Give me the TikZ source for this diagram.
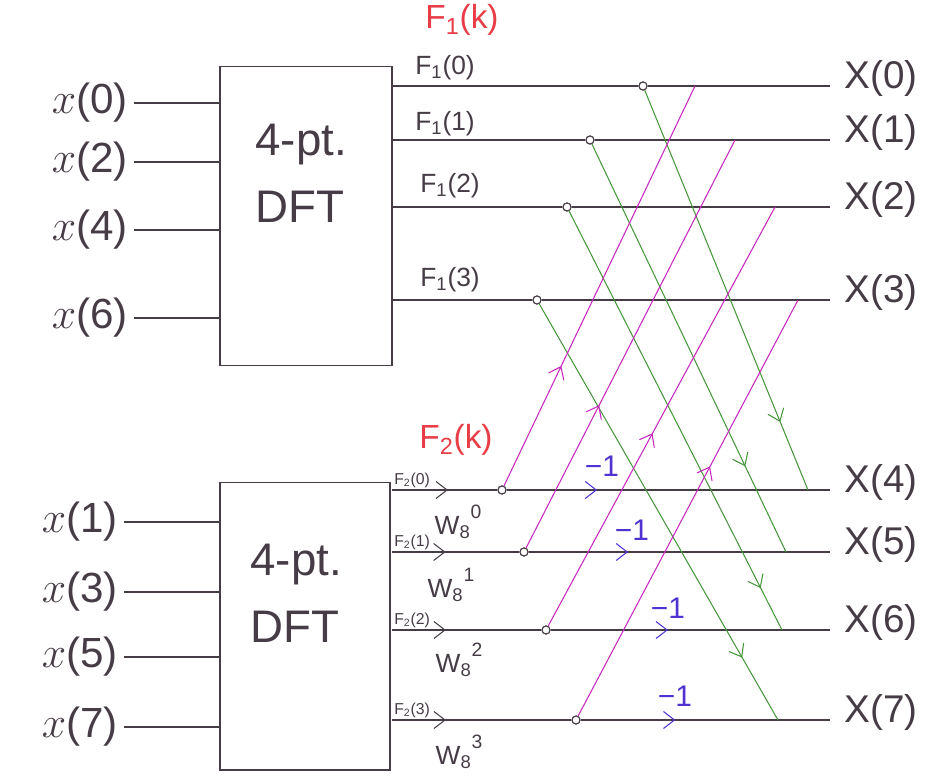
\documentclass[tikz,border=0pt]{standalone}
\usepackage{fontspec}
\setmainfont{Liberation Sans}
\usetikzlibrary{arrows.meta,decorations.markings}
\definecolor{inkblk}{RGB}{70,60,70}
\definecolor{inkred}{RGB}{232,60,70}
\definecolor{inkgrn}{RGB}{70,150,60}
\definecolor{inkmag}{RGB}{200,40,190}
\definecolor{inkblu}{RGB}{80,50,210}
\begin{document}
\begin{tikzpicture}[x=0.02cm,y=-0.02cm,line width=0.6pt,
  box/.style={draw=inkblk,minimum width=3.44cm,minimum height=6cm,inner sep=0pt},
  boxtxt/.style={anchor=north west,align=left,inner sep=0pt,text=inkblk,font=\fontsize{26}{38}\selectfont},
  inlbl/.style={anchor=east,text=inkblk,font=\fontsize{24}{26}\selectfont},
  outlbl/.style={anchor=west,text=inkblk,font=\fontsize{22}{24}\selectfont},
  flbl/.style={text=inkblk,font=\fontsize{15}{17}\selectfont},
  ftiny/.style={text=inkblk,font=\fontsize{9}{10}\selectfont,inner sep=1pt},
  wlbl/.style={text=inkblk,font=\fontsize{15}{17}\selectfont},
  mlbl/.style={text=inkblu,font=\fontsize{17}{19}\selectfont},
  redlbl/.style={text=inkred,font=\fontsize{19}{21}\selectfont},
  jn/.style={circle,draw=inkblk,fill=white,inner sep=0pt,minimum size=1.6mm},
  barb/.tip={Straight Barb[length=2.2mm,width=3.4mm]},
  flow/.style 2 args={postaction={decorate,decoration={markings,mark=at position #1 with {\arrow[#2]{barb}}}}}]
\useasboundingbox (0,0) rectangle (950,777);

\node[box] (dftA) at (306,216) {};
\node[box,minimum width=3.4cm,minimum height=5.76cm] (dftB) at (305,626) {};
\node[boxtxt] (dftAt) at (255,124) {4-pt.\\DFT};
\node[boxtxt] (dftBt) at (250,544) {4-pt.\\DFT};

\foreach \k/\y in {0/103,2/162,4/230,6/318} {
  \node[inlbl] (x\k) at (134,\y) {$x$(\k)};
  \draw[inkblk] (x\k.east) -- (x\k.east -| dftA.west);
}
\foreach \k/\y in {1/522,3/592,5/657,7/727} {
  \node[inlbl] (x\k) at (124,\y) {$x$(\k)};
  \draw[inkblk] (x\k.east) -- (x\k.east -| dftB.west);
}

\foreach \k/\y in {0/86,1/140,2/207,3/300,4/490,5/552,6/630,7/720} {
  \coordinate (s\k) at (392,\y);
  \coordinate (o\k) at (830,\y);
  \node[outlbl] (X\k) at (838,\y-8) {X(\k)};
}

\foreach \k/\x/\m in {0/808/4,1/786/5,2/782/6,3/778/7}
  \coordinate (g\k) at (\x,0 |- o\m);
\foreach \k/\x/\m in {4/695/0,5/735/1,6/775/2,7/798/3}
  \coordinate (m\k) at (\x,0 |- o\m);

\foreach \k/\x in {0/643,1/590,2/567,3/537} {
  \node[jn] (j\k) at (\x,0 |- o\k) {};
  \draw[inkblk] (s\k) -- (j\k);
  \draw[inkblk] (j\k) -- (o\k);
}
\foreach \k/\x/\a/\b in {4/502/0.53/0.28,5/524/0.42/0.33,6/546/0.36/0.42,7/576/0.30/0.38} {
  \node[jn] (j\k) at (\x,0 |- o\k) {};
  \draw[inkblk,flow={\a}{inkblk}] (s\k) -- (j\k);
  \draw[inkblk,flow={\b}{inkblu}] (j\k) -- (o\k);
}

\foreach \k/\p in {0/0.83,1/0.79,2/0.9,3/0.85}
  \draw[inkgrn,flow={\p}{inkgrn}] (j\k) -- (g\k);
\foreach \k/\p in {4/0.3,5/0.35,6/0.46,7/0.6}
  \draw[inkmag,flow={\p}{inkmag}] (j\k) -- (m\k);
\foreach \k in {0,...,7} \node[jn] at (j\k) {};

\foreach \k/\x/\y in {0/445/68,1/445/124,2/450/186,3/450/280}
  \node[flbl] (f1\k) at (\x,\y) {F\textsubscript{1}(\k)};
\foreach \k/\r in {0/4,1/5,2/6,3/7}
  \node[ftiny,anchor=south west] (f2\k) at (392,0 |- o\r) {F\textsubscript{2}(\k)};
\foreach \k/\x/\y in {0/458/522,1/451/585,2/459/660,3/459/752}
  \node[wlbl] (w\k) at (\x,\y) {W\textsubscript{8}\raisebox{1.1ex}{\fontsize{11}{12}\selectfont\k}};
\foreach \k/\x/\y in {4/602/466,5/632/530,6/668/608,7/675/696}
  \node[mlbl] (n\k) at (\x,\y) {{\char"2212}1};

\node[redlbl] (f1k) at (462,20) {F\textsubscript{1}(k)};
\node[redlbl] (f2k) at (456,440) {F\textsubscript{2}(k)};
\end{tikzpicture}
\end{document}
